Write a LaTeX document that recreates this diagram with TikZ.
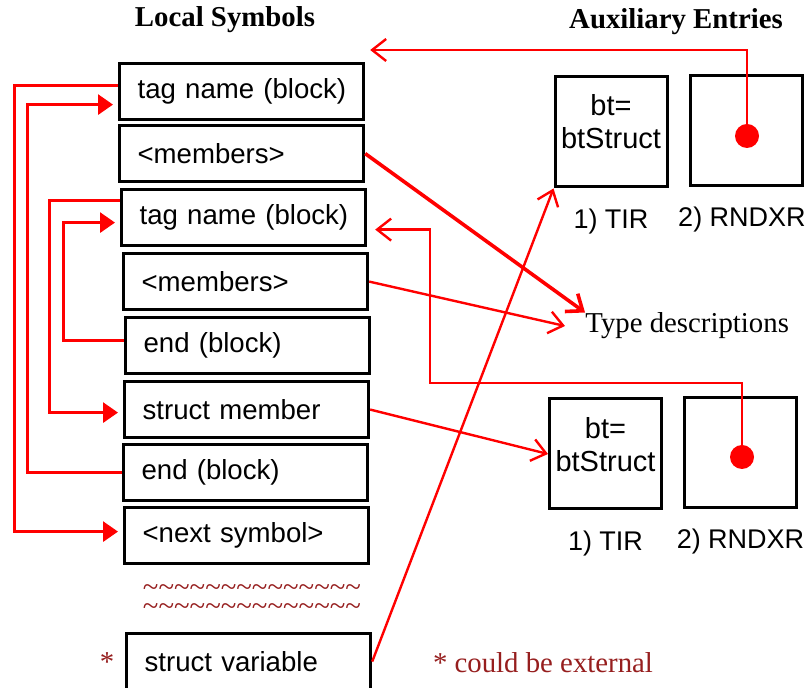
\documentclass[tikz,border=0pt]{standalone}
\usepackage{fontspec}
\setmainfont{Liberation Serif}
\setsansfont{Liberation Sans}
\usetikzlibrary{arrows.meta, positioning}
\definecolor{linkred}{RGB}{255, 0, 0}
\definecolor{notered}{RGB}{150, 30, 30}
\newcommand{\tilderow}{\textasciitilde\textasciitilde\textasciitilde\textasciitilde\textasciitilde\textasciitilde\textasciitilde\textasciitilde\textasciitilde\textasciitilde\textasciitilde\textasciitilde\textasciitilde\textasciitilde}

\tikzset{
  symbox/.style={draw, line width=1.6pt, anchor=north west, minimum height=28pt,
    text width=104pt, inner xsep=9pt, align=left, font=\sffamily\fontsize{13.8}{16}\selectfont},
  auxbox/.style={draw, line width=1.5pt, minimum width=56pt, minimum height=55pt,
    inner sep=0pt, align=center, font=\sffamily\fontsize{14.5}{16.5}\selectfont},
  auxlabel/.style={inner sep=0pt, font=\sffamily\fontsize{13.5}{16}\selectfont},
  ptrdot/.style={circle, fill=linkred, inner sep=0pt, minimum size=12pt},
  chainlink/.style={draw=linkred, line width=1.5pt, -{Triangle[length=7.5pt,width=10pt]}, shorten >=2.5pt},
  reflink/.style={draw=linkred, line width=1.2pt, -{Straight Barb[length=7pt,width=11pt]}},
  heading/.style={font=\bfseries\fontsize{14.4}{17}\selectfont},
  serifnote/.style={font=\fontsize{14.4}{17}\selectfont}
}

\begin{document}
\begin{tikzpicture}[x=0.5pt, y=-0.5pt]
  \useasboundingbox (0,0) rectangle (809,688);

  % headings
  \node[heading] (symhead) at (225,20) {Local Symbols};
  \node[heading] (auxhead) at (676,22) {Auxiliary Entries};

  % local symbol table
  \foreach \nm/\x/\y/\txt in {symTagA/118/62/{tag name (block)}, symMembersA/118/124/{<members>},
      symTagB/120/188/{tag name (block)}, symMembersB/122/252/{<members>},
      symEndB/124/316/{end (block)}, symMember/123/380/{struct member},
      symEndA/122/443/{end (block)}, symNext/123/506/{<next symbol>},
      symVar/125/632/{struct variable}} {
    \node[symbox] (\nm) at (\x,\y) {\mbox{\txt}};
  }

  \node[notered, inner sep=0pt, align=center, anchor=north,
    font=\fontsize{14.4}{9.5}\selectfont] (tildes) at (252,584) {\tilderow\\\tilderow};
  \node[serifnote, notered] (varstar) at (107,662) {*};

  % auxiliary entries
  \node[auxbox, text depth=10pt] (tirA) at (611,132) {bt=\\btStruct};
  \node[auxbox] (rndxA) at (746,130.5) {};
  \node[auxbox, text depth=10pt] (tirB) at (605.5,454) {bt=\\btStruct};
  \node[auxbox] (rndxB) at (740.5,452.5) {};
  \node[auxlabel, below=10pt of tirA] (tirAlab) {1) TIR};
  \node[auxlabel, below=10pt of rndxA, xshift=-2pt] (rndxAlab) {2) RNDXR};
  \node[auxlabel, below=10pt of tirB] (tirBlab) {1) TIR};
  \node[auxlabel, below=10pt of rndxB] (rndxBlab) {2) RNDXR};
  \node[ptrdot] (dotA) at (747,136) {};
  \node[ptrdot] (dotB) at (742,457) {};

  \node[serifnote, anchor=west, inner sep=0pt] (typedesc) at (585,326) {Type descriptions};
  \node[serifnote, notered] (extnote) at (543,663) {* could be external};

  % block chains
  \draw[chainlink] ([yshift=3pt]symTagA.west) -- ++(-104,0) |- ([yshift=2pt]symNext.west);
  \draw[chainlink] (symEndA.west) -- ++(-95,0) |- ([yshift=-6.5pt]symTagA.west);
  \draw[chainlink] ([yshift=8.5pt]symTagB.west) -- ++(-71,0) |- ([yshift=-1.5pt]symMember.west);
  \draw[chainlink] ([yshift=2.5pt]symEndB.west) -- ++(-61,0) |- ([yshift=-2.5pt]symTagB.west);

  % references to auxiliary entries
  \draw[reflink, line width=1.8pt] (symMembersA.east) -- (typedesc.north west);
  \draw[reflink] (symMembersB.east) -- ([xshift=-10pt]typedesc.west);
  \draw[reflink] (symMember.east) -- (tirB.west);
  \draw[reflink] (symVar.east) -- (tirA.south west);
  \draw[reflink] (dotA.center) |- ([xshift=2.5pt,yshift=6pt]symTagA.north east);
  \draw[reflink] (dotB.center) -- ++(0,-74) -- ++(-312,0) |- ([xshift=4pt,yshift=-6pt]symTagB.east);
\end{tikzpicture}
\end{document}
